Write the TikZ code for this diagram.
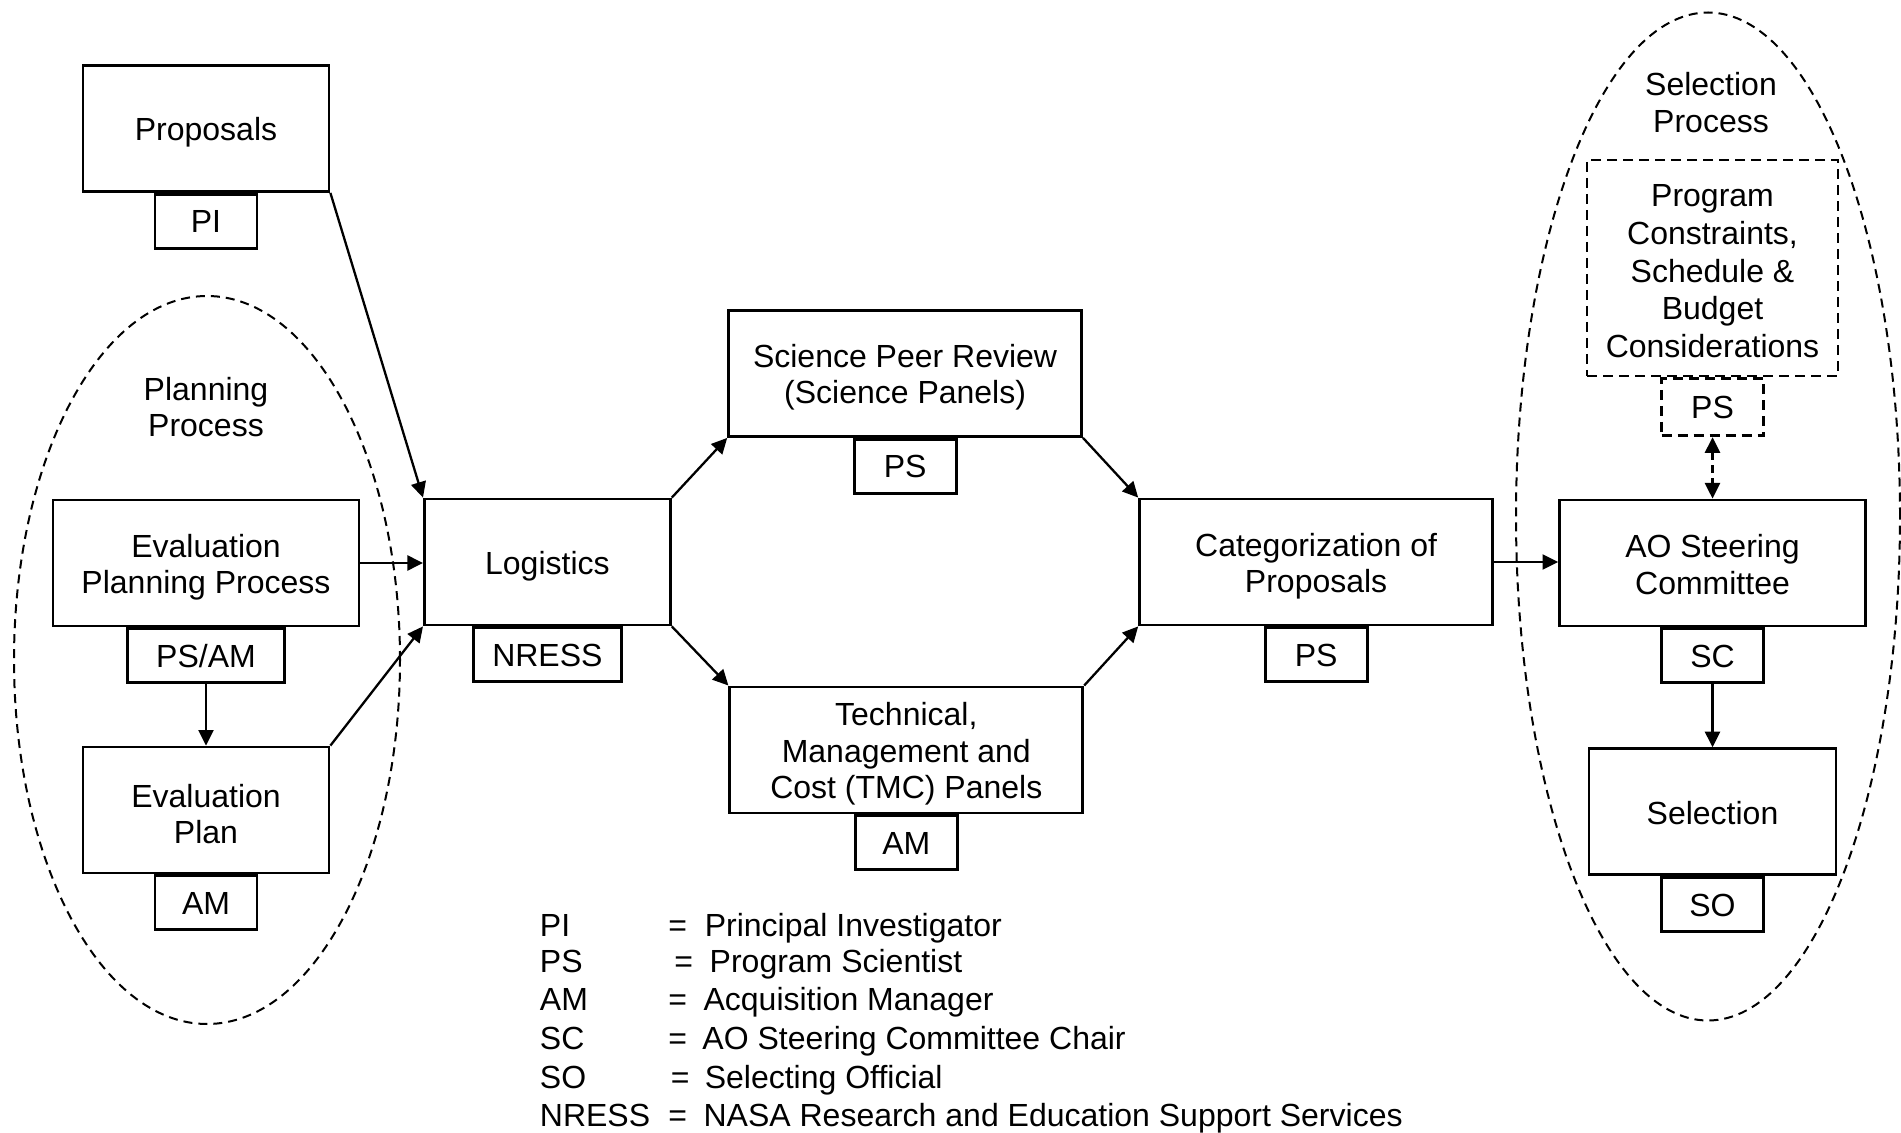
\documentclass[tikz,border=0pt]{standalone}
\usepackage{fontspec}
\setmainfont{Liberation Sans}
\usetikzlibrary{shapes.geometric,arrows.meta}
\begin{document}
\begin{tikzpicture}[x=0.5pt,y=-0.5pt,
  every node/.style={font=\fontsize{16}{18.2}\selectfont},
  box/.style={draw, line width=1.4pt, inner sep=0pt, minimum height=63pt},
  txt/.style={align=center, inner sep=0pt, yshift=-2pt},
  txtr/.style={align=center, inner sep=0pt, yshift=-0.8pt},
  lbl/.style={draw, line width=1.4pt, inner sep=0pt, minimum height=27pt, minimum width=51pt, anchor=north, text height=11.5pt, text depth=0pt},
  arr/.style={line width=1.15pt, -{Triangle[length=7.8pt,width=7.5pt]}},
  dasharr/.style={line width=1.15pt, dash pattern=on 4pt off 2.5pt, {Triangle[length=7.8pt,width=7.5pt]}-{Triangle[length=7.8pt,width=7.5pt]}},
  ell/.style={ellipse, draw, line width=1pt, dash pattern=on 4.5pt off 3pt, inner sep=0pt},
  plain/.style={inner sep=0pt, align=center},
  lg/.style={anchor=west, inner sep=0pt, text height=11.5pt, text depth=0pt}
]
\useasboundingbox (0,0) rectangle (1901,1133);

% process ellipses
\node[ell, minimum width=193pt, minimum height=364pt] (planEll) at (207,660) {};
\node[ell, minimum width=192pt, minimum height=504pt] (selEll) at (1708,516.5) {};

% left column
\node[box, minimum width=123pt, label={[txt]center:Proposals}] (prop) at (206,128.5) {};
\node[lbl] (pi) at (prop.south) {PI};
\node[plain] (planT) at (206,407) {Planning\\Process};
\node[box, minimum width=153pt, label={[txt]center:{Evaluation\\Planning Process}}] (epp) at (206,563) {};
\node[lbl, minimum width=78.8pt] (psam) at (epp.south) {PS/AM};
\node[box, minimum width=123pt, label={[txt]center:{Evaluation\\Plan}}] (ep) at (206,810) {};
\node[lbl] (am1) at (ep.south) {AM};

% middle
\node[box, minimum width=123pt, label={[txt]center:Logistics}] (log) at (547.4,562) {};
\node[lbl, minimum width=74pt] (nress) at (log.south) {NRESS};
\node[box, minimum width=176.5pt, label={[txt]center:{Science Peer Review\\(Science Panels)}}] (spr) at (905.1,373.5) {};
\node[lbl] (ps1) at (spr.south) {PS};
\node[box, minimum width=176.5pt, label={[txt]center:{Technical,\\Management and\\Cost (TMC) Panels}}] (tmc) at (906.3,749.9) {};
\node[lbl] (am2) at (tmc.south) {AM};
\node[box, minimum width=176.5pt, label={[txt]center:{Categorization of\\Proposals}}] (cat) at (1316.1,562) {};
\node[lbl] (ps2) at (cat.south) {PS};

% right column
\node[plain] (selT) at (1711,102.5) {Selection\\Process};
\node[box, dash pattern=on 5pt off 3pt, minimum width=125.5pt, minimum height=108pt,
  label={[txtr, font=\fontsize{16}{18.9}\selectfont, yshift=-0.8pt]center:{Program\\Constraints,\\Schedule \&\\Budget\\Considerations}}] (pc) at (1712.5,268) {};
\node[lbl, dash pattern=on 5pt off 3pt, minimum height=28.5pt] (ps3) at (pc.south) {PS};
\node[box, minimum width=153pt, label={[txtr]center:{AO Steering\\Committee}}] (ao) at (1712.5,563) {};
\node[lbl] (sc) at (ao.south) {SC};
\node[box, minimum width=123.5pt, label={[txtr]center:Selection}] (sel) at (1712.5,811.7) {};
\node[lbl] (so) at (sel.south) {SO};

% connectors
\draw[arr] (prop.south east) -- (log.north west);
\draw[arr] (epp.east) -- (epp.east -| log.west);
\draw[arr] (ep.north east) -- (log.south west);
\draw[arr] (psam.south) -- (ep.north);
\draw[arr] (log.north east) -- (spr.south west);
\draw[arr] (log.south east) -- (tmc.north west);
\draw[arr] (spr.south east) -- (cat.north west);
\draw[arr] (tmc.north east) -- (cat.south west);
\draw[arr] (cat.east) -- (cat.east -| ao.west);
\draw[dasharr] (ps3.south) -- (ao.north);
\draw[arr] (sc.south) -- (sel.north);

% legend
\node[lg] (lgA1) at (539.5,925.1) {PI};
\node[lg] (lgB1) at (668,925.1) {=};
\node[lg] (lgC1) at (704.4,925.1) {Principal Investigator};
\node[lg] (lgA2) at (539.5,961.4) {PS};
\node[lg] (lgB2) at (674,961.4) {=};
\node[lg] (lgC2) at (709.3,961.4) {Program Scientist};
\node[lg] (lgA3) at (539.5,999) {AM};
\node[lg] (lgB3) at (668,999) {=};
\node[lg] (lgC3) at (703.2,999) {Acquisition Manager};
\node[lg] (lgA4) at (539.5,1037.8) {SC};
\node[lg] (lgB4) at (668,1037.8) {=};
\node[lg] (lgC4) at (702,1037.8) {AO Steering Committee Chair};
\node[lg] (lgA5) at (539.5,1076.6) {SO};
\node[lg] (lgB5) at (670.5,1076.6) {=};
\node[lg] (lgC5) at (704.4,1076.6) {Selecting Official};
\node[lg] (lgA6) at (539.5,1115.4) {NRESS};
\node[lg] (lgB6) at (668,1115.4) {=};
\node[lg] (lgC6) at (703.2,1115.4) {NASA Research and Education Support Services};
\end{tikzpicture}
\end{document}
